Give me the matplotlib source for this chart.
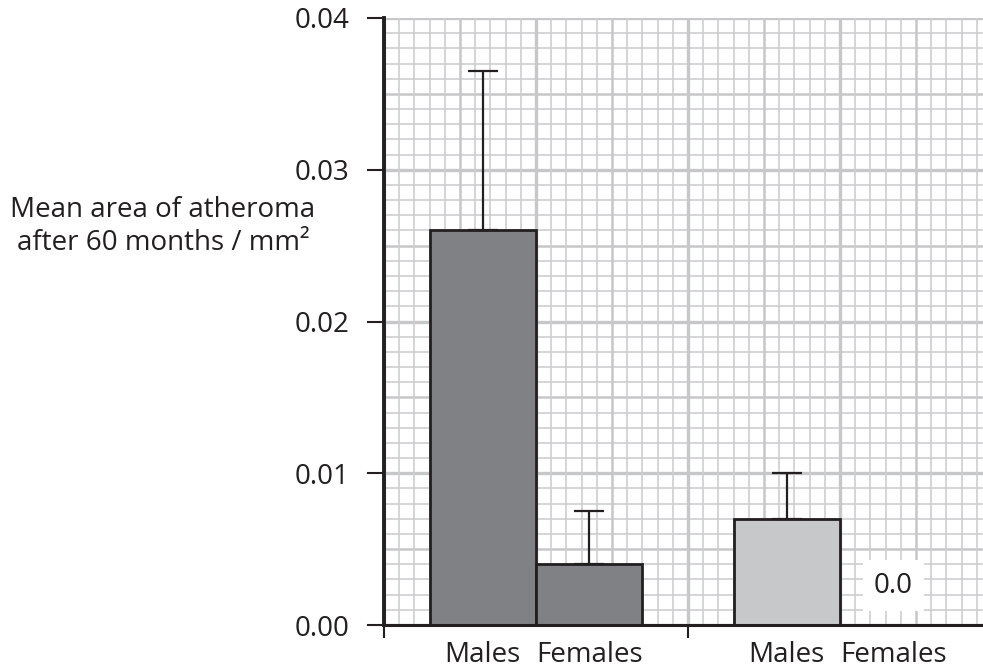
import numpy as np
import matplotlib
matplotlib.use("Agg")
import matplotlib.pyplot as plt

plt.rcParams['font.family'] = ['Open Sans', 'DejaVu Sans']

# data
labels = ['Males', 'Females', 'Males', 'Females']
group = [0, 0, 1, 1]
means = [0.026, 0.004, 0.007, 0.0]
upper_err = [0.0105, 0.0035, 0.003, 0.0]
yticks = [0.00, 0.01, 0.02, 0.03, 0.04]
zero_note = '0.0'
ylabel_lines = ['Mean area of atheroma', 'after 60 months / mm\u00b2']

group_colors = ['#808184', '#c7c8ca']
ink = '#231f20'
fs = 20

fig = plt.figure(figsize=(9.83, 6.70), dpi=100)
ax = fig.add_axes([384 / 983, 1 - 625 / 670, 1 - 384 / 983, (625 - 18) / 670])

xmax = 599 / 152
ax.set_xlim(0, xmax)
ax.set_ylim(0, 0.04)

# graph paper grid
for yv in np.arange(0, 0.04001, 0.001):
    k = int(round(yv / 0.001))
    if k % 10 == 0:
        lw, c = 2.4, '#c6c7c9'
    elif k % 5 == 0:
        lw, c = 1.8, '#c6c7c9'
    else:
        lw, c = 1.2, '#cdced0'
    ax.axhline(yv, color=c, lw=lw, zorder=0)
for xv in np.arange(0, xmax, 0.1):
    k = int(round(xv / 0.1))
    if k % 10 == 0:
        lw, c = 2.4, '#c6c7c9'
    elif k % 5 == 0:
        lw, c = 1.8, '#c6c7c9'
    else:
        lw, c = 1.2, '#cdced0'
    ax.axvline(xv, color=c, lw=lw, zorder=0)

# bars: two per group, group centres at 1 and 3
pos = [2 * g + 1 + (-0.35 if i % 2 == 0 else 0.35) for i, g in enumerate(group)]
for p, m, e, g in zip(pos, means, upper_err, group):
    ax.bar(p, m, width=0.7, color=group_colors[g], edgecolor=ink, lw=2.0, zorder=3)
    if e > 0:
        ax.errorbar(p, m, yerr=[[0], [e]], fmt='none', ecolor=ink, elinewidth=1.6,
                    capsize=11, capthick=1.6, zorder=4)

ax.text(pos[3], 0.0026, zero_note, ha='center', va='center', fontsize=fs, color=ink,
        bbox=dict(facecolor='white', edgecolor='none', pad=8), zorder=5)

for p, lab in zip(pos, labels):
    ax.text(p, -0.00243, lab, ha='center', va='baseline', fontsize=fs, color=ink,
            clip_on=False)

ax.set_yticks(yticks)
ax.set_yticklabels(['%.2f' % v for v in yticks], fontsize=fs, color=ink)
ax.set_xticks([0, 2])
ax.set_xticklabels([])
ax.tick_params(axis='y', direction='out', length=12, width=1.5, pad=13, color=ink)
ax.tick_params(axis='x', direction='out', length=9.5, width=1.5, color=ink)

for s in ['top', 'right']:
    ax.spines[s].set_visible(False)
ax.spines['left'].set_linewidth(2.8)
ax.spines['left'].set_color(ink)
ax.spines['bottom'].set_linewidth(2.2)
ax.spines['bottom'].set_color(ink)
ax.spines['left'].set_zorder(6)
ax.spines['bottom'].set_zorder(6)

fig.text(163 / 983, 1 - 217 / 670, ylabel_lines[0], ha='center', va='baseline',
         fontsize=fs, color=ink)
fig.text(163 / 983, 1 - 250 / 670, ylabel_lines[1], ha='center', va='baseline',
         fontsize=fs, color=ink)

fig.savefig('out.png', dpi=100)
